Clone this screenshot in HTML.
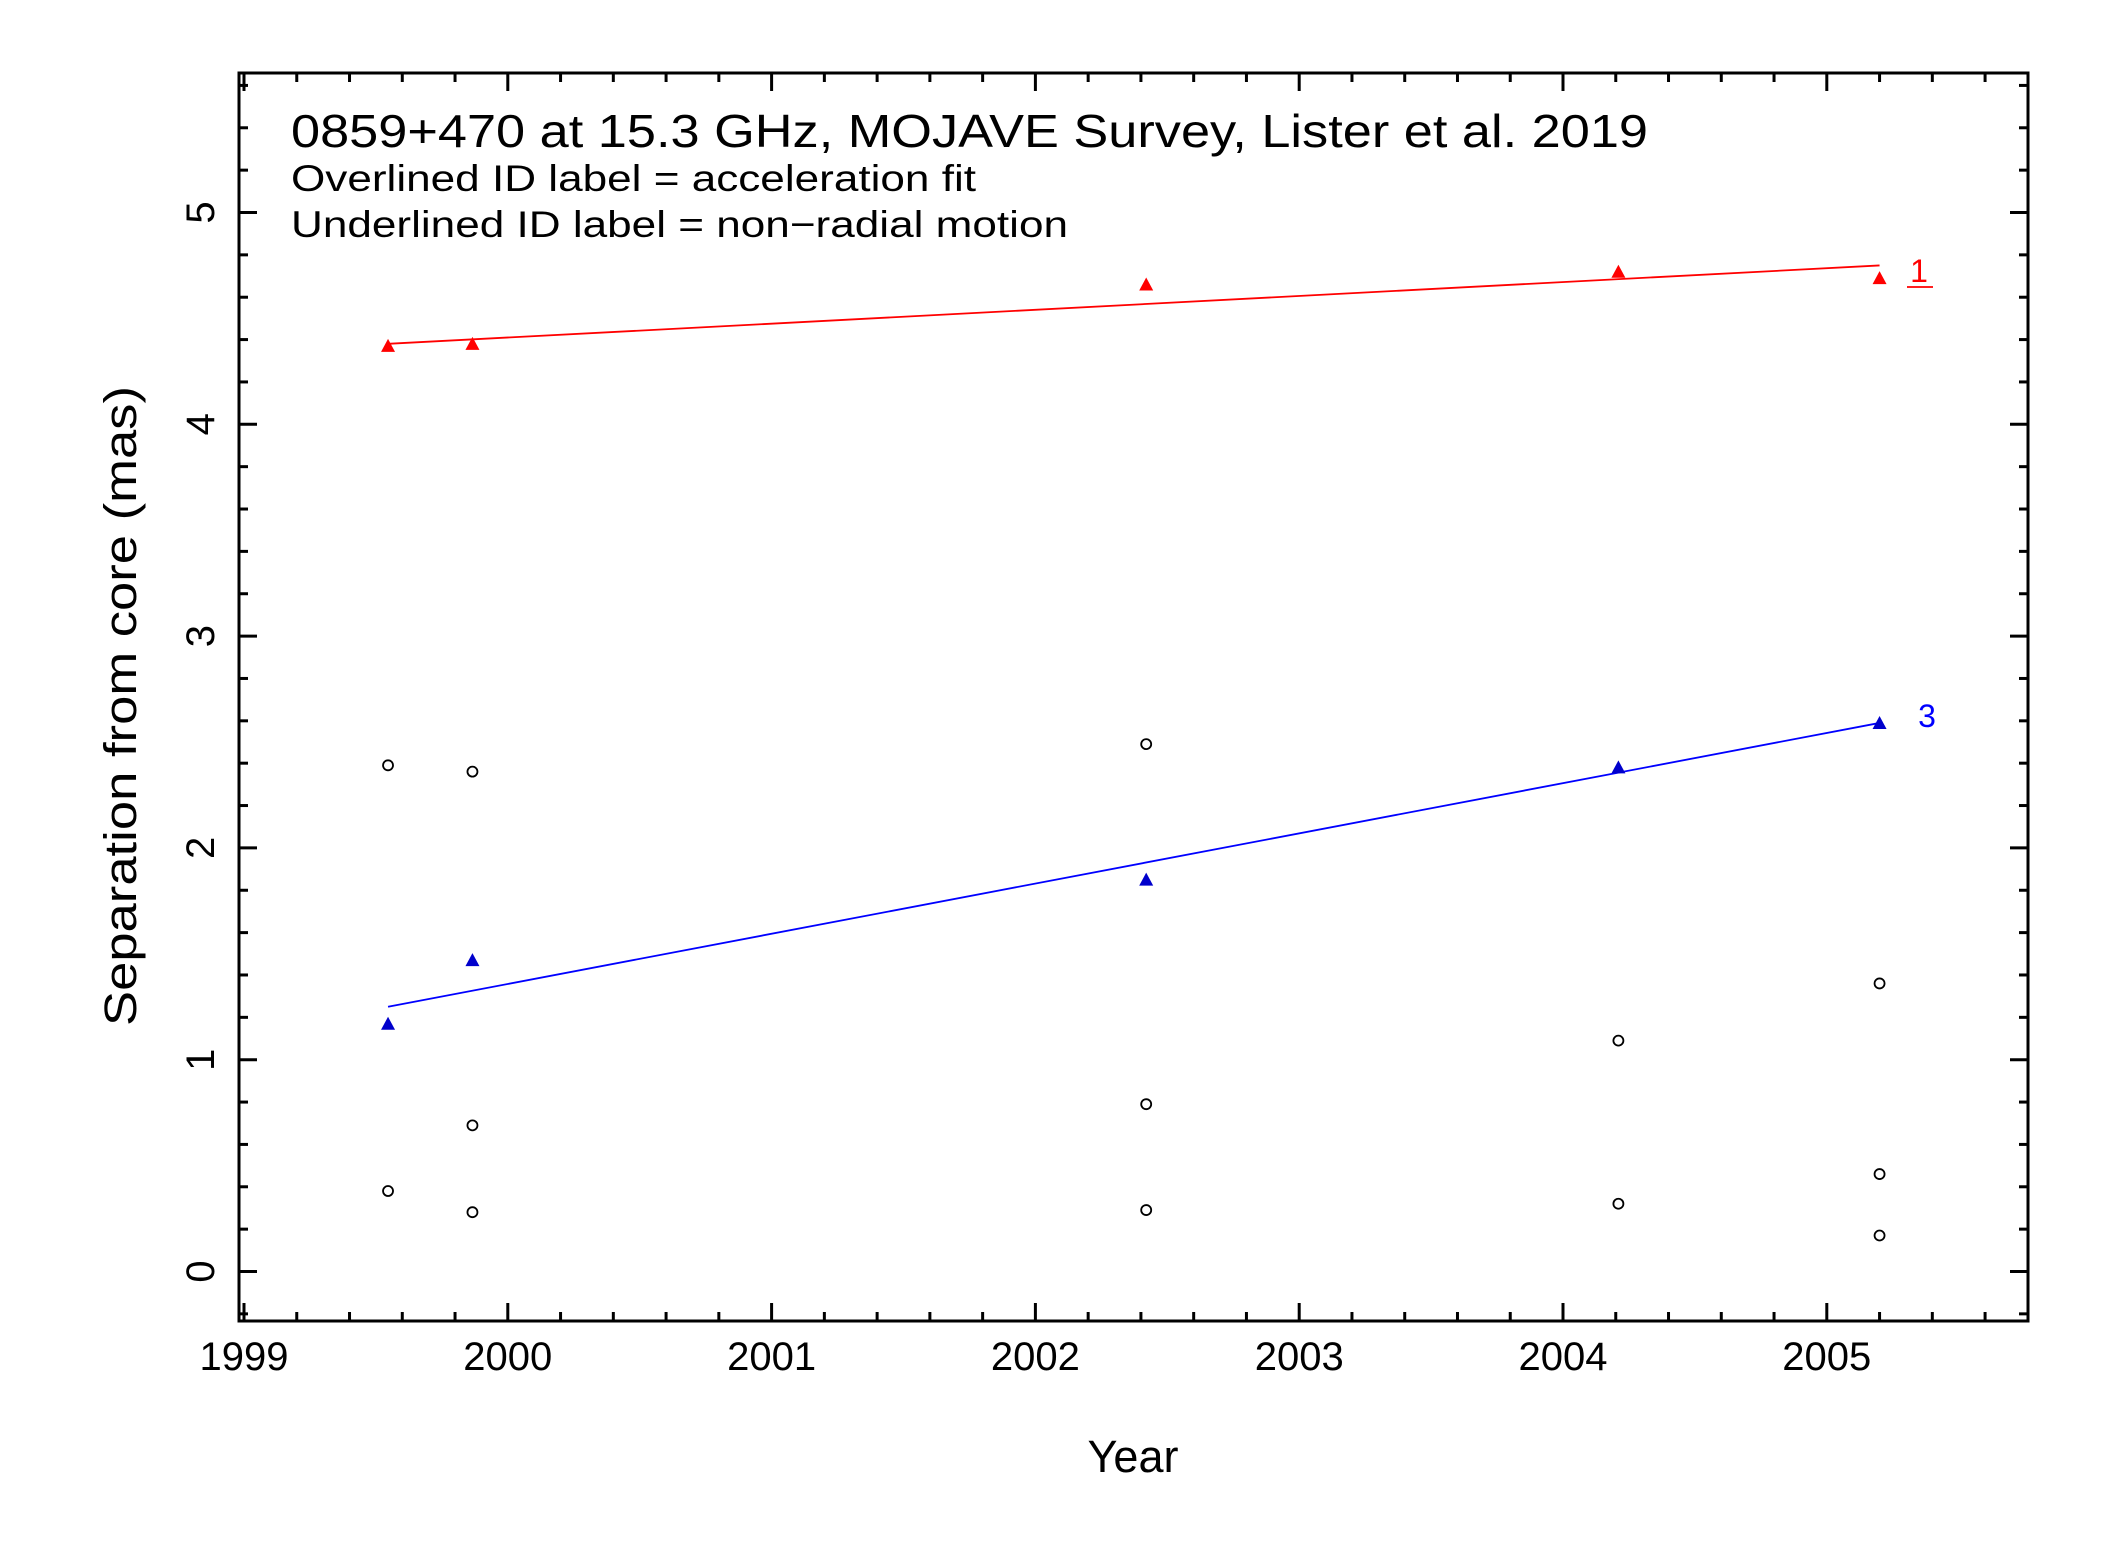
<!DOCTYPE html>
<html><head><meta charset="utf-8"><style>
html,body{margin:0;padding:0;background:#fff}
svg{display:block}
text{font-family:"Liberation Sans","DejaVu Sans",sans-serif}
</style></head><body>
<svg id="chart" width="2127" height="1546" viewBox="0 0 2127 1546" xmlns="http://www.w3.org/2000/svg">
<rect width="2127" height="1546" fill="#fff"/>
<g id="ticks"></g>
<g id="marks"></g>
<rect x="239" y="73" width="1789" height="1248" fill="none" stroke="#000" stroke-width="3"/>
<text x="291" y="147" font-size="46" textLength="1357" lengthAdjust="spacingAndGlyphs">0859+470 at 15.3 GHz, MOJAVE Survey, Lister et al. 2019</text>
<text x="291" y="191" font-size="37" textLength="685" lengthAdjust="spacingAndGlyphs">Overlined ID label = acceleration fit</text>
<text x="291" y="237" font-size="37" textLength="777" lengthAdjust="spacingAndGlyphs">Underlined ID label = non−radial motion</text>
<text x="1133" y="1472" font-size="45" text-anchor="middle">Year</text>
<text x="0" y="0" font-size="45" text-anchor="middle" textLength="640" lengthAdjust="spacingAndGlyphs" transform="translate(136,706) rotate(-90)">Separation from core (mas)</text>
</svg>
<script>
const epochs = [1999.546, 1999.866, 2002.42, 2004.21, 2005.2];
const comp1 = [4.37, 4.38, 4.66, 4.72, 4.69];
const comp3 = [1.17, 1.47, 1.85, 2.38, 2.59];
const fit1 = [4.38, 4.75];
const fit3 = [1.25, 2.59];
const otherYears = [1999.546, 1999.546, 1999.866, 1999.866, 1999.866, 2002.42, 2002.42, 2002.42, 2004.21, 2004.21, 2005.2, 2005.2, 2005.2];
const otherSeps = [2.39, 0.38, 2.36, 0.69, 0.28, 2.49, 0.79, 0.29, 1.09, 0.32, 1.36, 0.46, 0.17];
const xTickLabels = ["1999", "2000", "2001", "2002", "2003", "2004", "2005"];
const yTickLabels = ["0", "1", "2", "3", "4", "5"];

const NS = "http://www.w3.org/2000/svg";
const L = 239, R = 2028, T = 73, B = 1321;
function xs(y) { return 244 + (y - 1999) * 263.8; }
function ys(v) { return 1271.5 - v * 211.8; }
function mk(tag, attrs, parent) {
  const e = document.createElementNS(NS, tag);
  for (const k in attrs) e.setAttribute(k, attrs[k]);
  parent.appendChild(e);
  return e;
}
const tg = document.getElementById('ticks');
const mg = document.getElementById('marks');

for (let i = 0; i <= 34; i++) {
  const yr = 1999 + i * 0.2;
  const x = xs(yr);
  if (x < L || x > R) continue;
  const major = i % 5 === 0;
  const len = major ? 18 : 9;
  const t1 = mk('line', {x1: x, y1: B, x2: x, y2: B - len, stroke: '#000', 'stroke-width': 3}, tg);
  
  
  const t2 = mk('line', {x1: x, y1: T, x2: x, y2: T + len, stroke: '#000', 'stroke-width': 3}, tg);
  
  
}
xTickLabels.forEach(lbl => {
  const t = mk('text', {x: xs(+lbl), y: 1370, 'font-size': 40, 'text-anchor': 'middle'}, tg);
  t.textContent = lbl;
  
  
});
for (let i = -1; i <= 28; i++) {
  const v = i * 0.2;
  const y = ys(v);
  if (y < T || y > B) continue;
  const major = i % 5 === 0;
  const len = major ? 18 : 9;
  const t1 = mk('line', {x1: L, y1: y, x2: L + len, y2: y, stroke: '#000', 'stroke-width': 3}, tg);
  
  
  const t2 = mk('line', {x1: R, y1: y, x2: R - len, y2: y, stroke: '#000', 'stroke-width': 3}, tg);
  
  
}
yTickLabels.forEach(lbl => {
  const t = mk('text', {x: 0, y: 0, 'font-size': 40, 'text-anchor': 'middle', transform: 'translate(214,' + ys(+lbl) + ') rotate(-90)'}, tg);
  t.textContent = lbl;
  
  
});

const l1 = mk('line', {x1: xs(epochs[0]), y1: ys(fit1[0]), x2: xs(epochs[4]), y2: ys(fit1[1]), stroke: '#f00', 'stroke-width': 1.8}, mg);


const l3 = mk('line', {x1: xs(epochs[0]), y1: ys(fit3[0]), x2: xs(epochs[4]), y2: ys(fit3[1]), stroke: '#00f', 'stroke-width': 1.8}, mg);



function tri(x, y, col, name) {
  const p = mk('polygon', {points: (x - 7) + ',' + (y + 6) + ' ' + (x + 7) + ',' + (y + 6) + ' ' + x + ',' + (y - 7), fill: col}, mg);
  
  
}
epochs.forEach((e, i) => tri(xs(e), ys(comp1[i]), '#f00', 'point-component-1'));
epochs.forEach((e, i) => tri(xs(e), ys(comp3[i]), '#00c', 'point-component-3'));
otherYears.forEach((e, i) => {
  const c = mk('circle', {cx: xs(e), cy: ys(otherSeps[i]), r: 5, fill: 'none', stroke: '#000', 'stroke-width': 1.8}, mg);
  
  
});

const lab1 = mk('text', {x: 1919, y: 282, 'font-size': 32, fill: '#f00', 'text-anchor': 'middle'}, mg);
lab1.textContent = '1';


const ul = mk('line', {x1: 1907, y1: 287, x2: 1933, y2: 287, stroke: '#f00', 'stroke-width': 1.8}, mg);


const lab3 = mk('text', {x: 1927, y: 727, 'font-size': 32, fill: '#00f', 'text-anchor': 'middle'}, mg);
lab3.textContent = '3';


</script>
</body></html>
